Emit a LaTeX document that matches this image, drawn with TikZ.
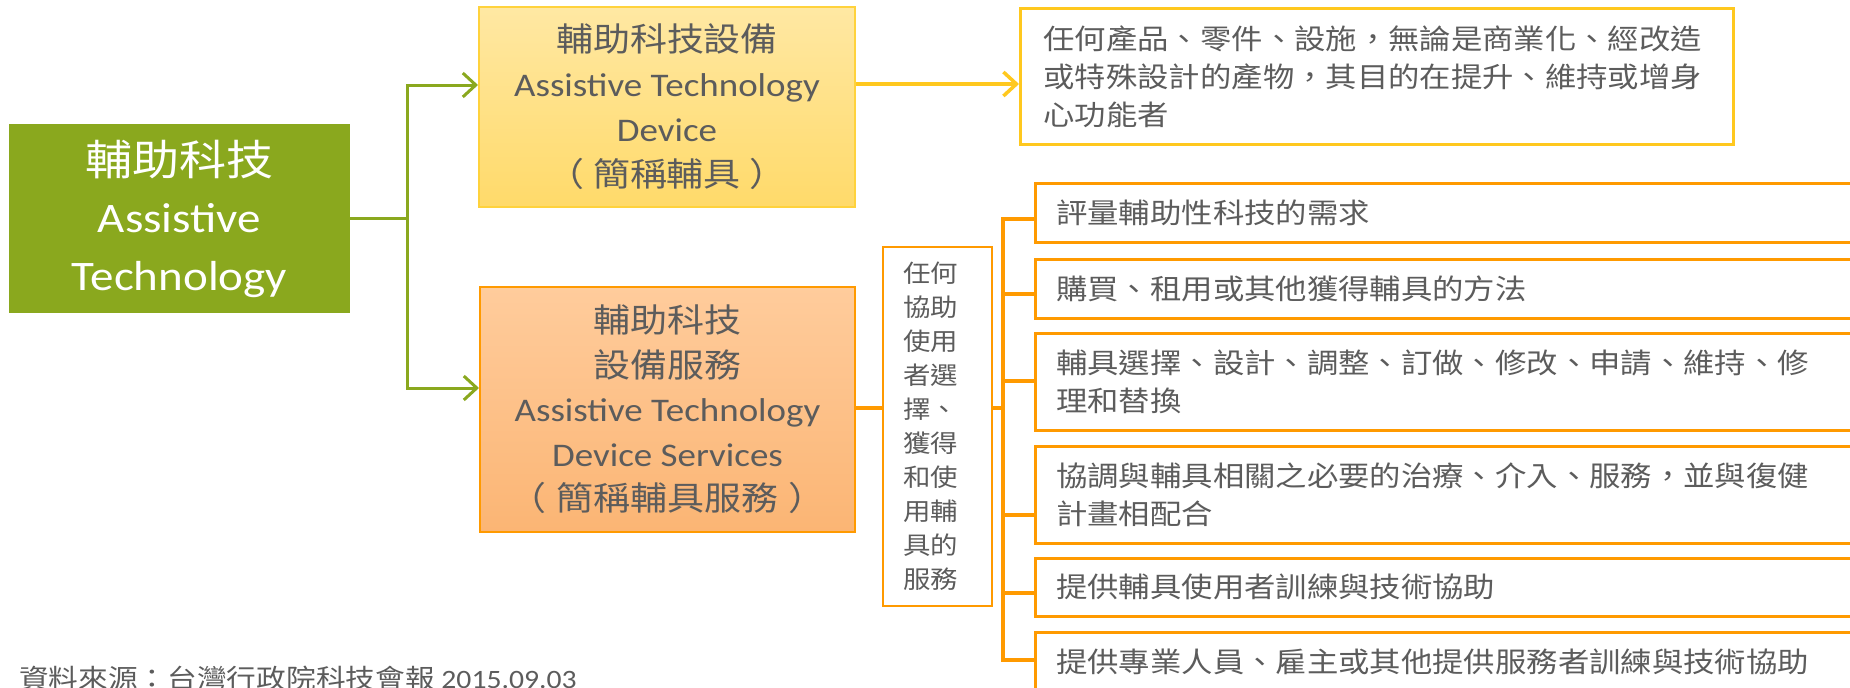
\documentclass[tikz,border=0pt]{standalone}
\usepackage{fontspec}
\setmainfont{Carlito}[FakeStretch=1.12]
\newfontfamily\cjk{Noto Sans CJK TC}[FakeStretch=1.12]
\usetikzlibrary{arrows.meta}
\definecolor{atgreen}{HTML}{8AA81E}
\definecolor{txtgray}{HTML}{5C5C5C}
\definecolor{orng}{HTML}{FF9A00}
\definecolor{gold}{HTML}{FFC81E}
\definecolor{ygold}{HTML}{FFD23C}
\definecolor{ytop}{HTML}{FFE8A3}
\definecolor{ybot}{HTML}{FFDA6A}
\definecolor{otop}{HTML}{FFCC9C}
\definecolor{obot}{HTML}{FBB574}
\tikzset{
  greenbox/.style={fill=atgreen, draw=none, text=white, align=center,
    font=\fontsize{42}{57.5}\selectfont},
  devbox/.style={top color=ytop, bottom color=ybot, draw=ygold, line width=2pt,
    text=txtgray, align=center, font=\fontsize{33}{45}\selectfont},
  svcbox/.style={top color=otop, bottom color=obot, draw=orng, line width=2pt,
    text=txtgray, align=center, font=\fontsize{33}{44.5}\selectfont},
  framebox/.style={draw=orng, line width=2.5pt, fill=white},
  listbox/.style={draw=orng, line width=2.5pt, fill=white, anchor=north west,
    text width=780pt, inner xsep=21pt, inner ysep=0pt, align=left, text=txtgray,
    font=\cjk\fontsize{28}{38}\selectfont},
  descbox/.style={draw=gold, line width=3pt, fill=white, anchor=north west,
    text width=667pt, inner xsep=23pt, inner ysep=0pt, align=left, text=txtgray,
    font=\cjk\fontsize{28}{38}\selectfont},
  garrow/.style={draw=atgreen, line width=3pt, -{Straight Barb[length=13pt,width=24pt]}},
  gline/.style={draw=atgreen, line width=3pt},
  yarrow/.style={draw=gold, line width=3.5pt, -{Straight Barb[length=13pt,width=24pt]}},
  oline/.style={draw=orng, line width=4.5pt},
}
\begin{document}
\begin{tikzpicture}[x=1pt, y=-1pt]
\clip (0,0) rectangle (1850,688);

% main boxes
\node[greenbox, minimum width=341pt, minimum height=189pt] (at) at (179.5,218.5)
  {{\cjk 輔助科技}\\Assistive\\Technology};
\node[devbox, minimum width=376pt, minimum height=200pt] (dev) at (667,107)
  {{\cjk 輔助科技設備}\\Assistive Technology\\Device\\{\cjk （\hspace{9pt}簡稱輔具\hspace{9pt}）}};
\node[svcbox, minimum width=375pt, minimum height=245pt] (svc) at (667.5,409.5)
  {{\cjk 輔助科技}\\{\cjk 設備服務}\\Assistive Technology\\Device Services\\{\cjk （\hspace{10pt}簡稱輔具服務\hspace{10pt}）}};

% description of device
\node[descbox, minimum height=136pt] (desc) at (1019,7)
  {任何產品、零件、設施，無論是商業化、經改造\\或特殊設計的產物，其目的在提升、維持或增身\\心功能者};

% vertical text box
\node[framebox, minimum width=109pt, minimum height=359pt] (vbox) at (937.5,426.5) {};
\node[text=txtgray, align=left, font=\cjk\fontsize{24.5}{34}\selectfont, inner sep=0pt] (vtext) at (930.5,426)
  {任何\\協助\\使用\\者選\\擇、\\獲得\\和使\\用輔\\具的\\服務};

% list of services
\node[listbox, minimum height=59pt] (l1) at (1034,182) {評量輔助性科技的需求};
\node[listbox, minimum height=59pt] (l2) at (1034,258) {購買、租用或其他獲得輔具的方法};
\node[listbox, minimum height=97pt] (l3) at (1034,332) {輔具選擇、設計、調整、訂做、修改、申請、維持、修\\理和替換};
\node[listbox, minimum height=97pt] (l4) at (1034,445) {協調與輔具相關之必要的治療、介入、服務，並與復健\\計畫相配合};
\node[listbox, minimum height=58pt] (l5) at (1034,557) {提供輔具使用者訓練與技術協助};
\node[listbox, minimum height=60pt] (l6) at (1034,631) {提供專業人員、雇主或其他提供服務者訓練與技術協助};

% source
\node[anchor=base west, inner sep=0pt, text=txtgray, font=\fontsize{26.5}{30}\selectfont] (src) at (19,688)
  {{\cjk 資料來源：台灣行政院科技會報} 2015.09.03};

% green connectors
\coordinate (gj) at (407,218.5);
\draw[gline] (at.east) -- (gj);
\draw[garrow] (gj) |- ([yshift=22pt]dev.west);
\draw[garrow] (gj) |- ([yshift=21.5pt]svc.west);

% yellow connector
\draw[yarrow] ([yshift=23pt]dev.east) -- ([yshift=23pt]dev.east -| desc.west);

% orange connectors
\draw[oline] ([yshift=1.5pt]svc.east) -- ([yshift=1.5pt]svc.east -| vbox.west);
\coordinate (bm) at (1003,408);
\draw[oline] (bm -| vbox.east) -- (bm);
\coordinate (b1) at (1003,219);
\coordinate (b2) at (1003,294);
\coordinate (b3) at (1003,381);
\coordinate (b4) at (1003,515);
\coordinate (b5) at (1003,593);
\coordinate (b6) at (1003,660);
\draw[oline] (b1 -| l1.west) -- (b1) -- (b6) -- (b6 -| l6.west);
\draw[oline] (b2) -- (b2 -| l2.west);
\draw[oline] (b3) -- (b3 -| l3.west);
\draw[oline] (b4) -- (b4 -| l4.west);
\draw[oline] (b5) -- (b5 -| l5.west);
\end{tikzpicture}
\end{document}
